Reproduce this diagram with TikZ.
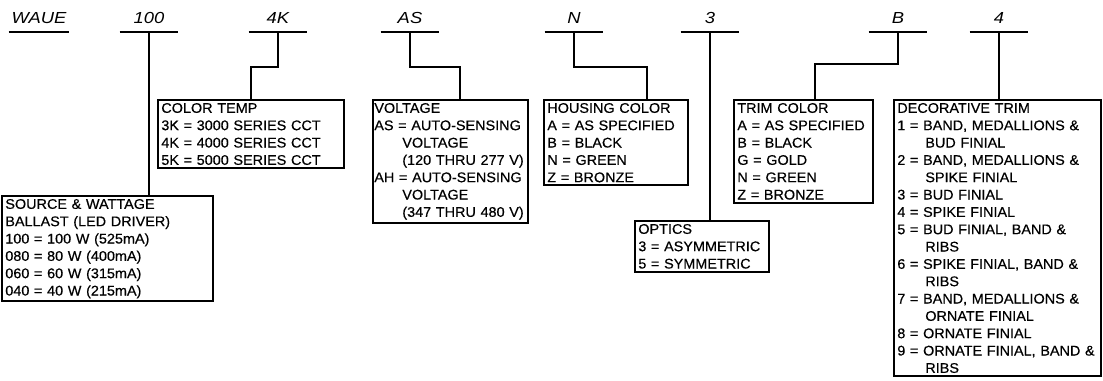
\documentclass[tikz,border=0pt]{standalone}
\usepackage{fontspec}
\setmainfont{Liberation Sans}[FakeStretch=1.03, FakeBold=0.4]
\newfontfamily\codefont{Liberation Sans}[FakeStretch=1.15]
\tikzset{
    spec_box/.style={
        rectangle, draw=black, line width=1.5pt, anchor=north west,
        inner xsep=2.5pt, inner ysep=2.3pt, align=left,
        font=\fontsize{10.5}{13}\selectfont
    },
    code_lbl/.style={
        anchor=south, minimum width=43.5pt, inner xsep=0pt, inner ysep=6pt,
        text height=9pt, text depth=0pt, font=\codefont\fontsize{12}{14}\selectfont\itshape
    },
    code_line/.style={line width=1.5pt},
    lead_line/.style={line width=1.5pt, line join=miter}
}
\newcommand{\ind}{\hspace*{21pt}}

\begin{document}
\begin{tikzpicture}[x=0.75pt, y=-0.75pt]
    \useasboundingbox (0,0) rectangle (1103,381);

    % catalogue code
    \node[code_lbl, minimum width=45pt] (waue) at (39,32) {WAUE};
    \node[code_lbl] (c100) at (149,32) {100};
    \node[code_lbl] (c4k) at (278,32) {4K};
    \node[code_lbl] (cas) at (410,32) {AS};
    \node[code_lbl] (cn) at (574,32) {N};
    \node[code_lbl] (c3) at (710,32) {3};
    \node[code_lbl] (cb) at (898,32) {B};
    \node[code_lbl] (c4) at (999,32) {4};

    \draw[line width=0.8pt] (waue.south west) -- (waue.south east);
    \foreach \c in {c100, c4k, cas, cn, c3, cb, c4}
        \draw[code_line] (\c.south west) -- (\c.south east);

    % option boxes
    \node[spec_box, text width=153pt] (source) at (1,195) {SOURCE \& WATTAGE\\BALLAST (LED DRIVER)\\100 = 100 W (525mA)\\080 = 80 W (400mA)\\060 = 60 W (315mA)\\040 = 40 W (215mA)};
    \node[spec_box, text width=134.5pt] (ctemp) at (157,99) {COLOR TEMP\\3K = 3000 SERIES CCT\\4K = 4000 SERIES CCT\\5K = 5000 SERIES CCT};
    \node[spec_box, inner xsep=1pt, text width=114pt] (volt) at (372,99) {VOLTAGE\\AS = AUTO-SENSING\\\ind VOLTAGE\\\ind (120 THRU 277 V)\\AH = AUTO-SENSING\\\ind VOLTAGE\\\ind (347 THRU 480 V)};
    \node[spec_box, text width=103pt] (house) at (543,99) {HOUSING COLOR\\A = AS SPECIFIED\\B = BLACK\\N = GREEN\\Z = BRONZE};
    \node[spec_box, text width=95.5pt] (optics) at (634,220) {OPTICS\\3 = ASYMMETRIC\\5 = SYMMETRIC};
    \node[spec_box, text width=99pt] (trim) at (733,99) {TRIM COLOR\\A = AS SPECIFIED\\B = BLACK\\G = GOLD\\N = GREEN\\Z = BRONZE};
    \node[spec_box, text width=150pt] (decor) at (893,99) {DECORATIVE TRIM\\1 = BAND, MEDALLIONS \&\\\ind BUD FINIAL\\2 = BAND, MEDALLIONS \&\\\ind SPIKE FINIAL\\3 = BUD FINIAL\\4 = SPIKE FINIAL\\5 = BUD FINIAL, BAND \&\\\ind RIBS\\6 = SPIKE FINIAL, BAND \&\\\ind RIBS\\7 = BAND, MEDALLIONS \&\\\ind ORNATE FINIAL\\8 = ORNATE FINIAL\\9 = ORNATE FINIAL, BAND \&\\\ind RIBS};

    % leaders
    \draw[lead_line] (c100.south) -- (c100.south |- source.north);
    \draw[lead_line] (c4k.south) -- ++(0,35) -| (ctemp.north);
    \draw[lead_line] (cas.south) -- ++(0,35) -| ([xshift=7.5pt]volt.north);
    \draw[lead_line] (cn.south) -- ++(0,35) -| ([xshift=23pt]house.north);
    \draw[lead_line] (c3.south) -- (c3.south |- optics.north);
    \draw[lead_line] (cb.south) -- ++(0,32) -| ([xshift=9pt]trim.north);
    \draw[lead_line] (c4.south) -- (c4.south |- decor.north);
\end{tikzpicture}
\end{document}
